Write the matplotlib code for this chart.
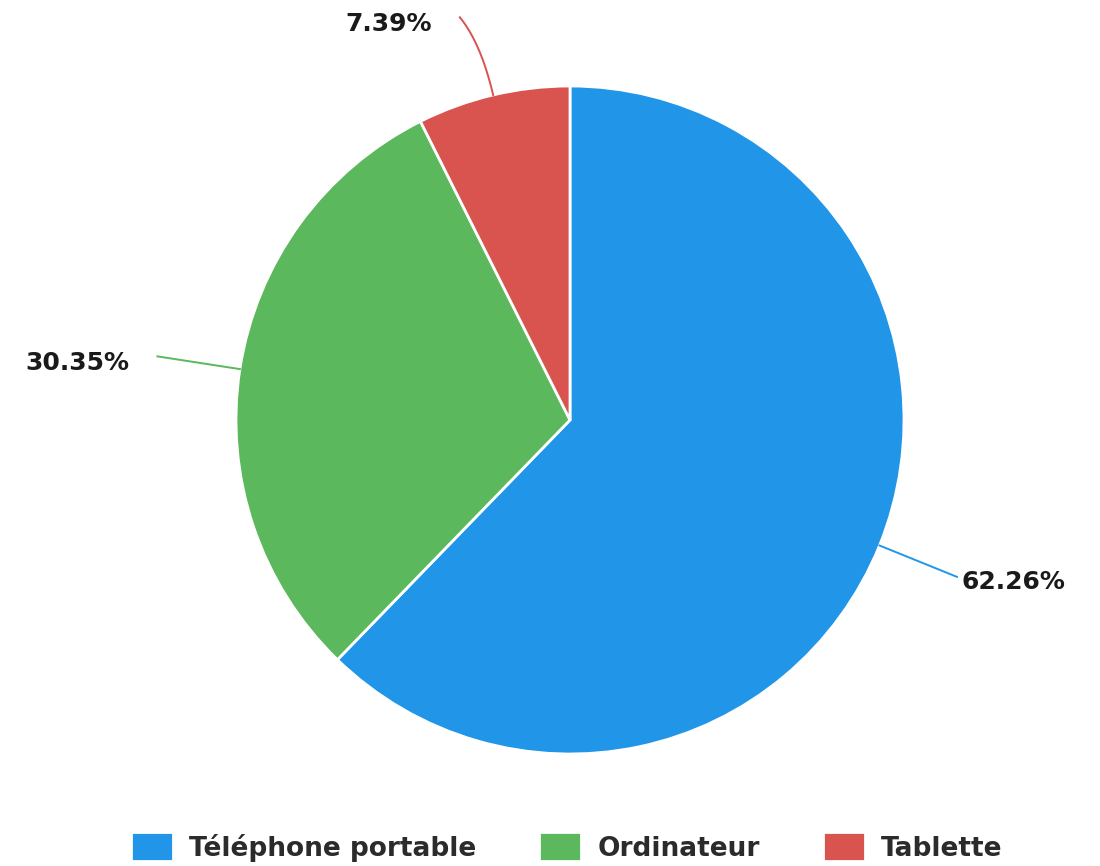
import numpy as np
import matplotlib
matplotlib.use("Agg")
import matplotlib.pyplot as plt

categories = ["Téléphone portable", "Ordinateur", "Tablette"]
values = [62.26, 30.35, 7.39]
colors = ["#2196E8", "#5CB85C", "#D9534F"]
labels = ["62.26%", "30.35%", "7.39%"]

W, H = 1100, 866
fig = plt.figure(figsize=(W / 100, H / 100), dpi=100)
cx, cy, R = 570, 420, 334
ax = fig.add_axes([(cx - R) / W, 1 - (cy + R) / H, 2 * R / W, 2 * R / H])

wedges, _ = ax.pie(values, colors=colors, startangle=90, counterclock=False,
                   radius=1, center=(0, 0),
                   wedgeprops=dict(edgecolor="white", linewidth=2))
ax.set_xlim(-1, 1)
ax.set_ylim(-1, 1)
ax.set_aspect("equal")
ax.axis("off")

for w, lab, col in zip(wedges, labels, colors):
    midd = (w.theta1 + w.theta2) / 2
    mid = np.deg2rad(midd)
    x0, y0 = np.cos(mid), np.sin(mid)
    # lines near the top hook away from the vertical
    hook = 0.0
    if abs(x0) < 0.5:
        hook = np.deg2rad(2.0) * (1 if x0 < 0 else -1)
    xm, ym = 1.16 * np.cos(mid), 1.16 * np.sin(mid)
    x1, y1 = 1.25 * np.cos(mid + hook), 1.25 * np.sin(mid + hook)
    t = np.linspace(0, 1, 40)
    xs = (1 - t) ** 2 * x0 + 2 * (1 - t) * t * xm + t ** 2 * x1
    ys = (1 - t) ** 2 * y0 + 2 * (1 - t) * t * ym + t ** 2 * y1
    ax.plot(xs, ys, color=col, lw=1.4, clip_on=False)
    if x0 >= 0:
        ax.text(x1 + 0.015, y1 - 0.015, lab, ha="left", va="center",
                fontsize=18, fontweight="bold", color="#1a1a1a")
    else:
        ax.text(x1 - 0.083, y1 - 0.02, lab, ha="right", va="center",
                fontsize=18, fontweight="bold", color="#1a1a1a")

leg = fig.legend(wedges, categories, loc="center", bbox_to_anchor=(0.515, 1 - 847 / H),
                 ncol=3, frameon=False, handlelength=1.6, handleheight=1.3,
                 handletextpad=0.6, columnspacing=2.4,
                 prop=dict(family=["DejaVu Sans"], size=19, weight="bold"))
for t in leg.get_texts():
    t.set_color("#2b2b2b")

fig.savefig("out.png", dpi=100)
